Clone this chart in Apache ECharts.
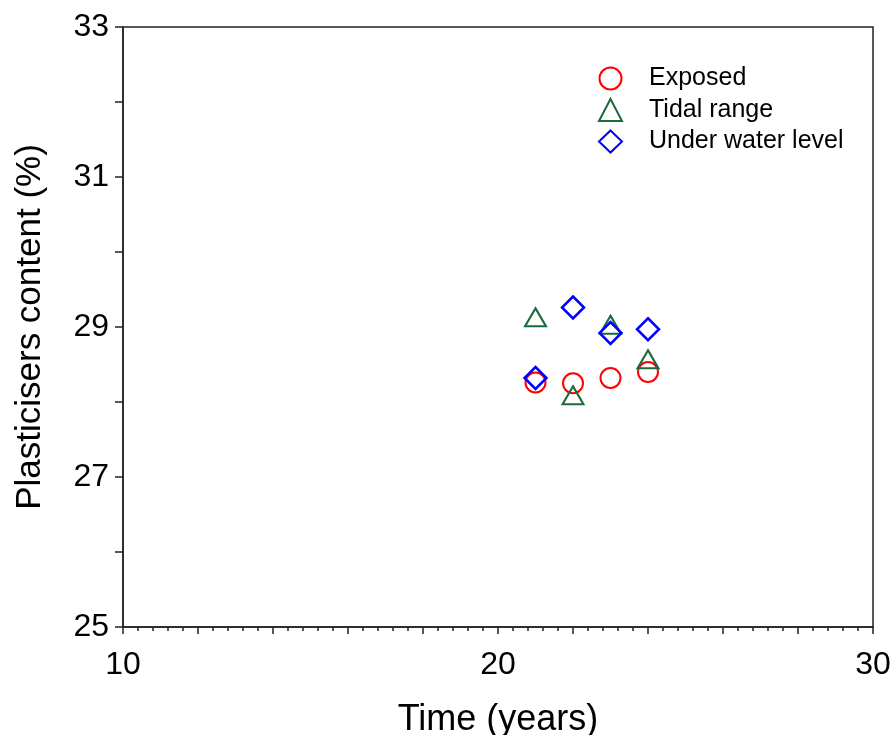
<!DOCTYPE html>
<html>
<head>
<meta charset="utf-8">
<script src="https://cdn.jsdelivr.net/npm/echarts@6/dist/echarts.min.js"></script>
<style>
  html, body { margin: 0; padding: 0; background: #fff; }
  #chart { width: 893px; height: 735px; }
</style>
</head>
<body>
<div id="chart"></div>
<script>
// time (years)
const years = [21, 22, 23, 24];
// plasticisers content (%)
const exposed = [28.26, 28.25, 28.32, 28.40];
const tidalRange = [29.13, 28.09, 29.03, 28.57];
const underWater = [28.32, 29.26, 28.92, 28.97];

const seriesNames = ['Exposed', 'Tidal range', 'Under water level'];

const font = 'Liberation Sans, Arial, sans-serif';

const chart = echarts.init(document.getElementById('chart'));

const pairs = (vals) => years.map((x, i) => [x, vals[i]]);

const option = {
  animation: false,
  backgroundColor: '#fff',
  grid: {
    left: 123,
    right: 20,
    top: 27,
    bottom: 108,
    outerBoundsMode: 'none',
    containLabel: false,
    show: true,
    borderColor: '#222',
    borderWidth: 1.5,
    backgroundColor: 'transparent',
  },
  legend: {
    orient: 'vertical',
    left: 598,
    top: 66,
    padding: 0,
    itemWidth: 23,
    itemHeight: 22,
    itemGap: 6.5,
    textStyle: {
      fontFamily: font,
      fontSize: 25,
      lineHeight: 22,
      color: '#000',
      padding: [0, 0, 0, 22],
    },
    data: seriesNames,
  },
  xAxis: {
    type: 'value',
    min: 10,
    max: 30,
    interval: 2,
    name: 'Time (years)',
    nameLocation: 'middle',
    nameGap: 75,
    nameTextStyle: { fontFamily: font, fontSize: 36, color: '#000' },
    axisLine: { show: true, lineStyle: { color: '#222', width: 1.5 } },
    axisTick: { show: true, inside: false, length: 7, lineStyle: { color: '#222', width: 1.5 } },
    minorTick: { show: true, splitNumber: 5, length: 4, lineStyle: { color: '#222', width: 1.5 } },
    splitLine: { show: false },
    axisLabel: {
      fontFamily: font,
      fontSize: 32,
      color: '#000',
      margin: 22,
      formatter: (v) => (v % 10 === 0 ? String(v) : ''),
    },
  },
  yAxis: {
    type: 'value',
    min: 25,
    max: 33,
    interval: 1,
    name: 'Plasticisers content (%)',
    nameLocation: 'middle',
    nameGap: 75,
    nameTextStyle: { fontFamily: font, fontSize: 35, color: '#000' },
    axisLine: { show: true, lineStyle: { color: '#222', width: 1.5 } },
    axisTick: { show: true, inside: false, length: 8, lineStyle: { color: '#222', width: 1.5 } },
    splitLine: { show: false },
    axisLabel: {
      fontFamily: font,
      fontSize: 32,
      color: '#000',
      margin: 14,
      formatter: (v) => (v % 2 === 1 ? String(v) : ''),
    },
  },
  series: [
    {
      name: seriesNames[0],
      type: 'scatter',
      symbol: 'circle',
      symbolSize: 20,
      itemStyle: { color: '#fff', borderColor: '#ff0000', borderWidth: 2, opacity: 1 },
      data: pairs(exposed),
      z: 2,
    },
    {
      name: seriesNames[1],
      type: 'scatter',
      symbol: 'triangle',
      symbolSize: [21, 18],
      itemStyle: { color: 'rgba(0,0,0,0)', borderColor: '#1a6b3a', borderWidth: 2, opacity: 1 },
      data: pairs(tidalRange),
      z: 3,
    },
    {
      name: seriesNames[2],
      type: 'scatter',
      symbol: 'diamond',
      symbolSize: 22,
      itemStyle: { color: 'rgba(0,0,0,0)', borderColor: '#0000ff', borderWidth: 2.5, opacity: 1 },
      data: pairs(underWater),
      z: 4,
    },
  ],
};

chart.setOption(option);
</script>
</body>
</html>
